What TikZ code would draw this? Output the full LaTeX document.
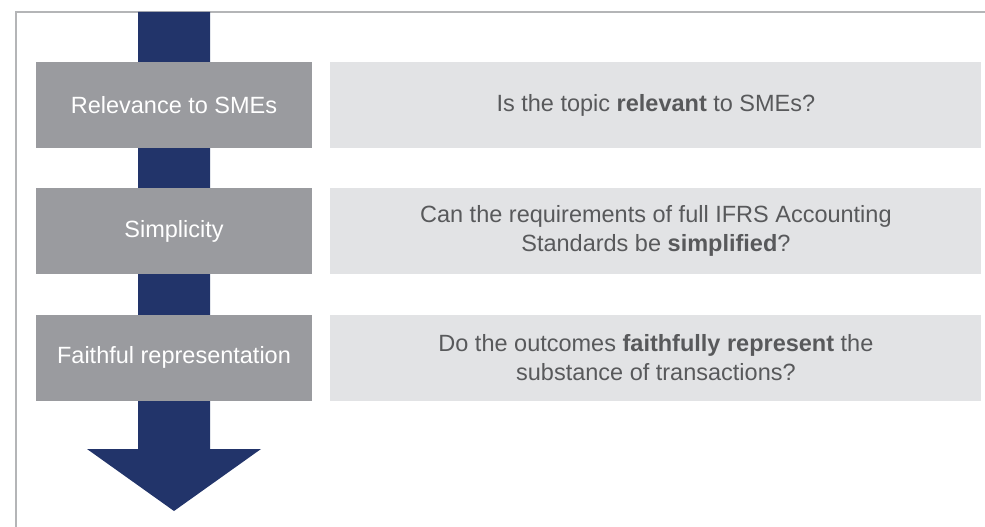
\documentclass[tikz,border=0pt]{standalone}
\usepackage{fontspec}
\setmainfont{Liberation Sans}
\usepackage{tikz}
\usetikzlibrary{positioning}
\definecolor{navy}{HTML}{22346A}
\definecolor{stagegrey}{HTML}{9A9B9F}
\definecolor{questgrey}{HTML}{E2E3E5}
\definecolor{textgrey}{HTML}{58595B}
\definecolor{framegrey}{HTML}{B4B5B7}
\tikzstyle{stage} = [rectangle, minimum width=276pt, minimum height=86pt, inner sep=0pt, text centered, fill=stagegrey, text=white]
\tikzstyle{question} = [rectangle, minimum width=651pt, minimum height=86pt, inner sep=0pt, align=center, fill=questgrey, text=textgrey]
\tikzstyle{frame} = [framegrey, line width=2pt]

\begin{document}
\begin{tikzpicture}[x=1pt, y=-1pt, every text node part/.style={font=\fontsize{23.5}{29}\selectfont}]
\useasboundingbox (0,0) rectangle (985,527);
\draw [frame] (985,12) -- (16,12) -- (16,527);
% big arrow behind the boxes
\fill [navy] (138,12) -- (210,12) -- (210,449) -- (261,449) -- (174,511) -- (87,449) -- (138,449) -- cycle;

\node (relevance) [stage] at (174,105) {Relevance to SMEs};
\node (simplicity) [stage, below=40pt of relevance] {Simplicity};
\node (faithful) [stage, below=40pt of simplicity] {Faithful representation};
\node (q_relevance) [question, right=18pt of relevance] {Is the topic \textbf{relevant} to SMEs?};
\node (q_simplicity) [question, right=18pt of simplicity] {Can the requirements of full IFRS Accounting\\Standards be \textbf{simplified}?};
\node (q_faithful) [question, right=18pt of faithful] {Do the outcomes \textbf{faithfully represent} the\\substance of transactions?};
\end{tikzpicture}
\end{document}
